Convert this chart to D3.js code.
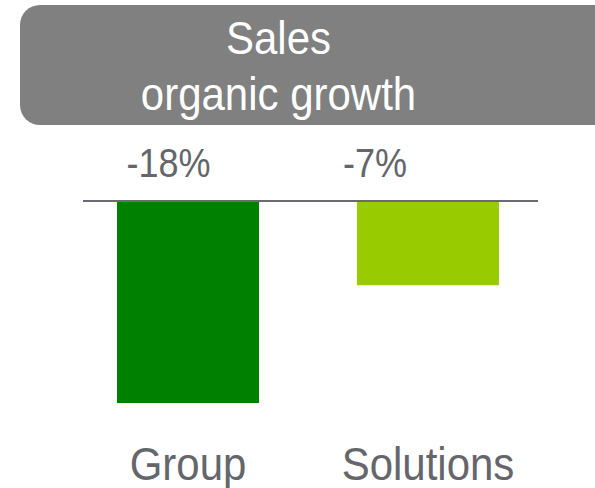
<!DOCTYPE html>
<html lang="en">

<head>
    <meta charset="UTF-8">
    <title>Sales organic growth</title>
    <style>
        body {
            margin: 0;
            background: #fff;
        }

        text {
            font-family: "Liberation Sans", Arial, sans-serif;
        }
    </style>
</head>

<body>
    <svg id="chart" width="595" height="488"></svg>
    <script src="https://d3js.org/d3.v7.min.js"></script>
    <script>
        const categories = ['Group', 'Solutions'];
        const growth = [-18, -7.5];
        const valueLabels = ['-18%', '-7%'];
        const titleLines = ['Sales', 'organic growth'];
        const barColors = ['#008000', '#99cc00'];

        // layout
        const baseY = 201, minY = 403;
        const labelShift = [-19.5, -53];   // value labels sit left of bar centres
        const stretch = 1.1;               // source text is slightly taller than wide

        const svg = d3.select('#chart');

        const x = d3.scaleBand()
            .domain(categories)
            .range([81, 535])
            .paddingInner(0.408)
            .paddingOuter(0.15);

        const y = d3.scaleLinear()
            .domain([d3.min(growth), 0])
            .range([minY, baseY]);

        function addText(g, str, px, py, size, fill, sy) {
            g.append('text')
                .attr('transform', `translate(${px},${py}) scale(1,${sy})`)
                .attr('text-anchor', 'middle')
                .attr('font-size', size)
                .attr('fill', fill)
                .text(str);
        }

        // header box
        svg.append('rect')
            .attr('x', 20)
            .attr('y', 5)
            .attr('width', 620)
            .attr('height', 120)
            .attr('rx', 20)
            .attr('fill', '#808080');

        addText(svg, titleLines[0], 278.5, 54, 42, '#fff', stretch + 0.02);
        addText(svg, titleLines[1], 278.5, 110, 42, '#fff', stretch + 0.02);

        // bars
        svg.selectAll('.bar')
            .data(growth)
            .join('rect')
            .attr('class', 'bar')
            .attr('x', (d, i) => x(categories[i]))
            .attr('width', x.bandwidth())
            .attr('y', y(0))
            .attr('height', d => y(d) - y(0))
            .attr('fill', (d, i) => barColors[i]);

        // zero line
        svg.append('line')
            .attr('x1', 83)
            .attr('x2', 538)
            .attr('y1', y(0))
            .attr('y2', y(0))
            .attr('stroke', '#6a6b70')
            .attr('stroke-width', 2);

        // value labels
        valueLabels.forEach((s, i) => {
            addText(svg, s, x(categories[i]) + x.bandwidth() / 2 + labelShift[i], 177, 36, '#64666b', 1.14);
        });

        // category labels
        categories.forEach(c => {
            addText(svg, c, x(c) + x.bandwidth() / 2, 480, 42, '#64666b', stretch);
        });
    </script>
</body>

</html>
